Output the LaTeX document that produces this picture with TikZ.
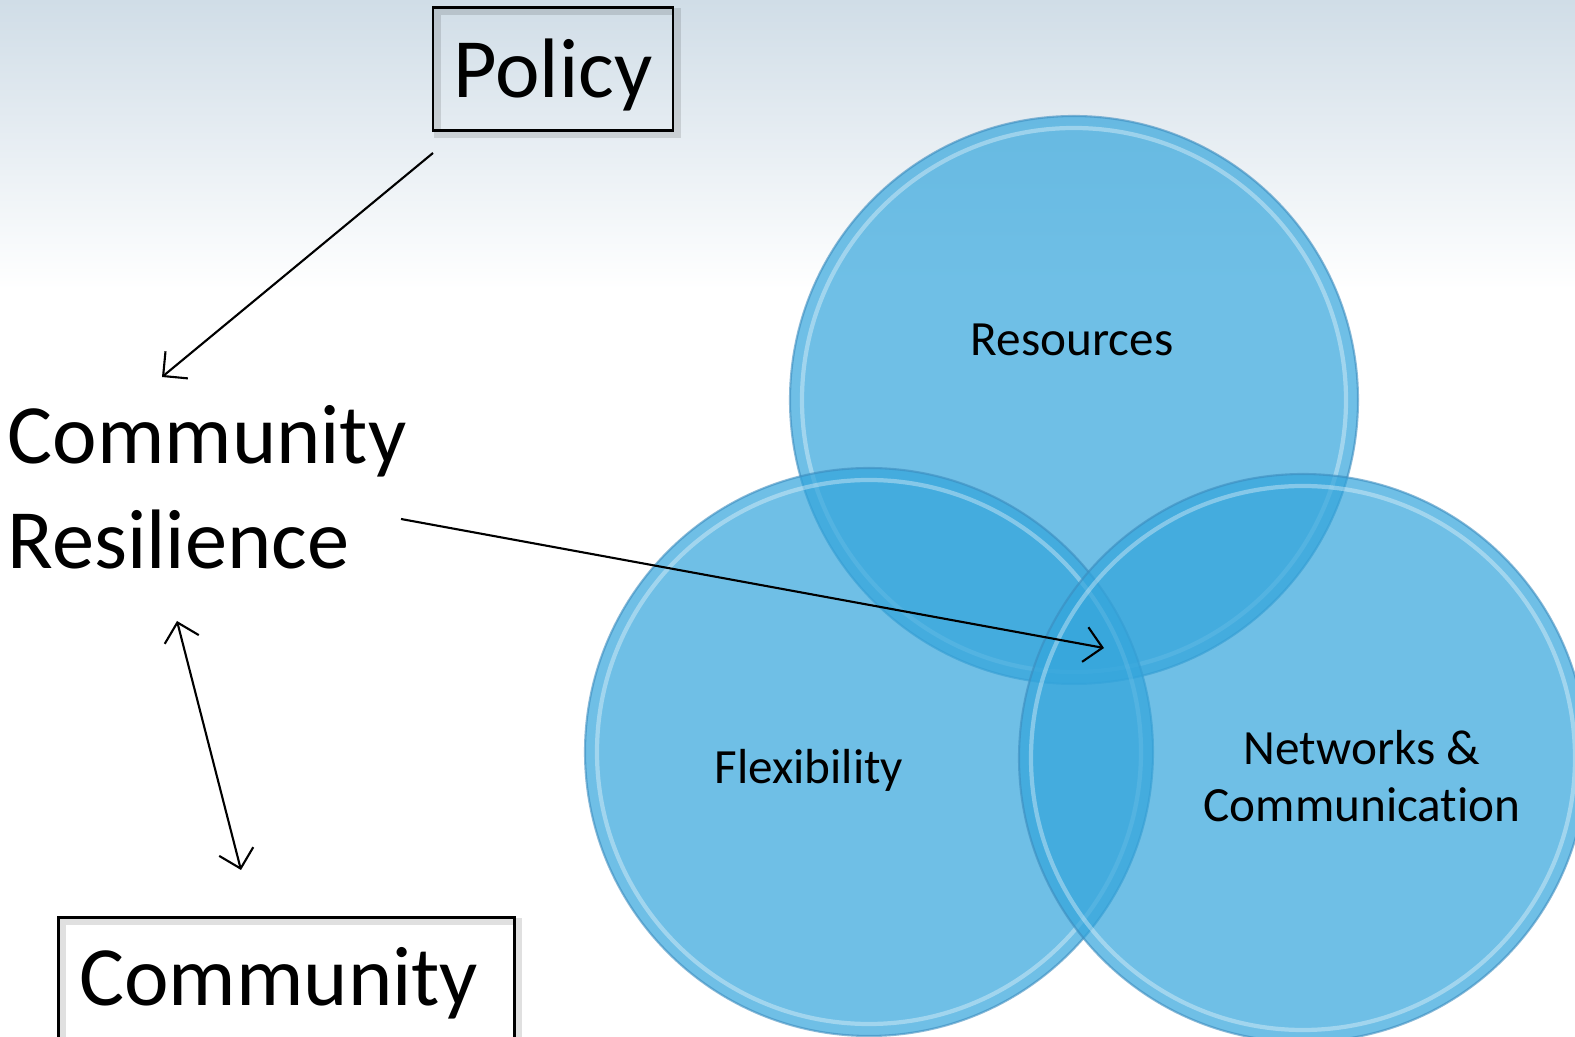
\documentclass[tikz,border=0pt]{standalone}
\usepackage{fontspec}
\setmainfont{Carlito}[Ligatures=NoCommon]
\usetikzlibrary{arrows.meta,positioning,calc,shadows}

\definecolor{venn}{RGB}{51,165,220}
\definecolor{vennedge}{RGB}{60,140,190}
\definecolor{skytop}{RGB}{208,221,231}

\tikzset{
  labelbox/.style={draw=black,line width=0.8pt,
    drop shadow={fill=none,draw=black,draw opacity=0.12,line width=2pt,shadow xshift=1.2pt,shadow yshift=-1.2pt}},
  vennring/.style={fill=venn,fill opacity=0.7,draw=vennedge,draw opacity=0.6,line width=0.6pt},
  vennshine/.style={draw=white,draw opacity=0.35,line width=1.2pt},
  venntext/.style={font=\fontsize{14}{16.4}\selectfont,align=center},
  bigtext/.style={font=\fontsize{24}{30}\selectfont},
  arr/.style={line width=0.6pt,-{Straight Barb[length=5pt,width=10pt]}},
  dblarr/.style={line width=0.6pt,{Straight Barb[length=5pt,width=10pt]}-{Straight Barb[length=5pt,width=10pt]}}
}

\begin{document}
\begin{tikzpicture}[x=0.01cm,y=-0.01cm]
    % page and sky
    \useasboundingbox (0,0) rectangle (1575,1037);
    \clip (0,0) rectangle (1575,1037);
    \fill[white] (0,0) rectangle (1575,1037);
    \shade[top color=skytop,bottom color=white] (0,0) rectangle (1575,290);
    % venn circles
    \foreach \cx/\cy in {1074/400,869/752,1303/758}{
      \filldraw[vennring] (\cx,\cy) circle (284);
      \draw[vennshine] (\cx,\cy) circle (272);
    }
    \node[venntext,anchor=base] (resources) at (1072,356) {Resources};
    \node[venntext,anchor=base] (flex) at (809,784) {Flexibility};
    \node[venntext,anchor=base] (netcom) at (1362,822) {Networks \&\\Communication};
    % left column
    \node[labelbox,bigtext,minimum width=2.40cm,minimum height=1.23cm,text height=21pt,text depth=5pt] (policy) at (553,69) {Policy};
    \node[bigtext,align=left,anchor=base west,inner sep=0pt] (resil) at (7,569) {Community\\Resilience};
    \node[labelbox,bigtext,anchor=north west,text width=4.14cm,inner xsep=0.21cm,text height=17pt,text depth=30pt,inner ysep=8pt] (community) at (57,916) {Community};
    % connector ends
    \coordinate (pol-tail) at (433,153);
    \coordinate (res-top) at (162,377);
    \coordinate (res-tail) at (401,519);
    \coordinate (core) at (1104,648);
    \coordinate (res-bot) at (177,621);
    \coordinate (com-top) at (241,870);
    % arrows
    \draw[arr] (pol-tail) -- (res-top);
    \draw[arr] (res-tail) -- (core);
    \draw[dblarr] (res-bot) -- (com-top);
\end{tikzpicture}
\end{document}
